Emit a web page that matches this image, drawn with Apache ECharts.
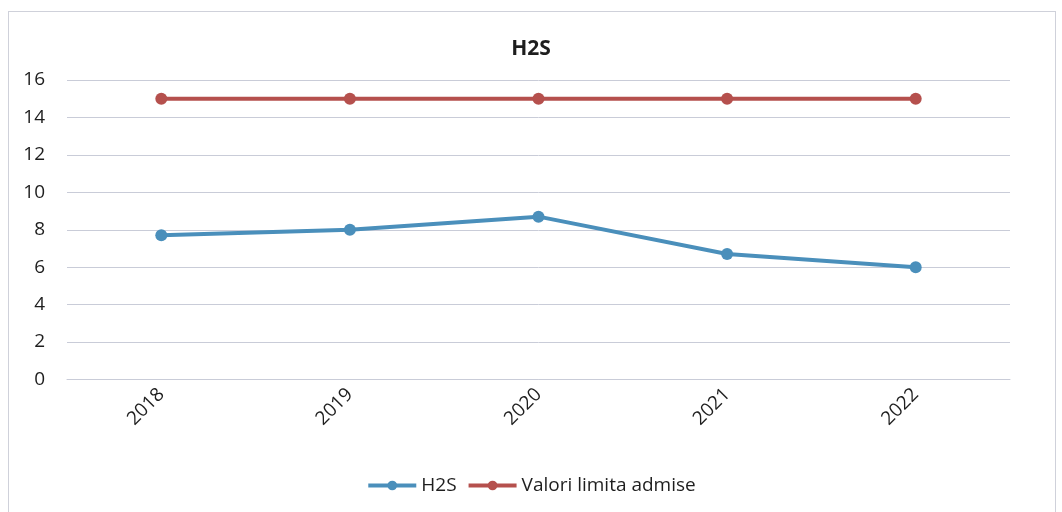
<!DOCTYPE html>
<html>
<head>
<meta charset="utf-8">
<script src="https://cdn.jsdelivr.net/npm/echarts@6/dist/echarts.min.js"></script>
<style>
  html, body { margin: 0; padding: 0; background: #fff; }
  #frame { position: absolute; left: 8px; top: 11px; width: 1048px; height: 520px; border: 1px solid #cfd1da; box-sizing: border-box; }
  #chart { position: absolute; left: 0; top: 0; width: 1062px; height: 512px; }
</style>
</head>
<body>
<div id="frame"></div>
<div id="chart"></div>
<script>
  const years = ['2018', '2019', '2020', '2021', '2022']
  const h2sValues = [7.7, 8.0, 8.7, 6.7, 6.0]
  const limitValues = [15, 15, 15, 15, 15]
  const yTicks = { min: 0, max: 16, step: 2 }

  const font = 'Open Sans'
  const myChart = echarts.init(document.getElementById('chart'))
  const option = {
    animation: false,
    textStyle: { fontFamily: font },
    title: {
      text: 'H2S',
      left: 'center',
      top: 34,
      textStyle: { fontFamily: font, fontSize: 21, fontWeight: 'bold', color: '#1e1e1e' }
    },
    color: ['#4a8fbb', '#b5504d'],
    legend: {
      bottom: 12,
      left: 'center',
      itemWidth: 48,
      itemHeight: 12,
      itemGap: 10,
      lineStyle: { width: 4 },
      textStyle: { fontFamily: font, fontSize: 19, color: '#1e1e1e' },
      data: ['H2S', 'Valori limita admise']
    },
    grid: { left: 67, right: 52, top: 80, height: 299.5 },
    xAxis: {
      type: 'category',
      boundaryGap: true,
      data: years,
      axisLine: { lineStyle: { color: '#c9ccd8' } },
      axisTick: { show: false },
      axisLabel: {
        rotate: 45,
        margin: 12,
        fontFamily: font,
        fontSize: 19,
        color: '#1e1e1e'
      }
    },
    yAxis: {
      type: 'value',
      min: yTicks.min,
      max: yTicks.max,
      interval: yTicks.step,
      axisLine: { show: false },
      axisTick: { show: false },
      axisLabel: { margin: 22, fontFamily: font, fontSize: 19, color: '#1e1e1e' },
      splitLine: { lineStyle: { color: '#c9ccd8', width: 1 } }
    },
    series: [{
        name: 'H2S',
        type: 'line',
        data: h2sValues,
        symbol: 'circle',
        symbolSize: 12,
        lineStyle: { width: 4 }
      },
      {
        name: 'Valori limita admise',
        type: 'line',
        data: limitValues,
        symbol: 'circle',
        symbolSize: 12,
        lineStyle: { width: 4 }
      }
    ]
  }
  myChart.setOption(option)
</script>
</body>
</html>
